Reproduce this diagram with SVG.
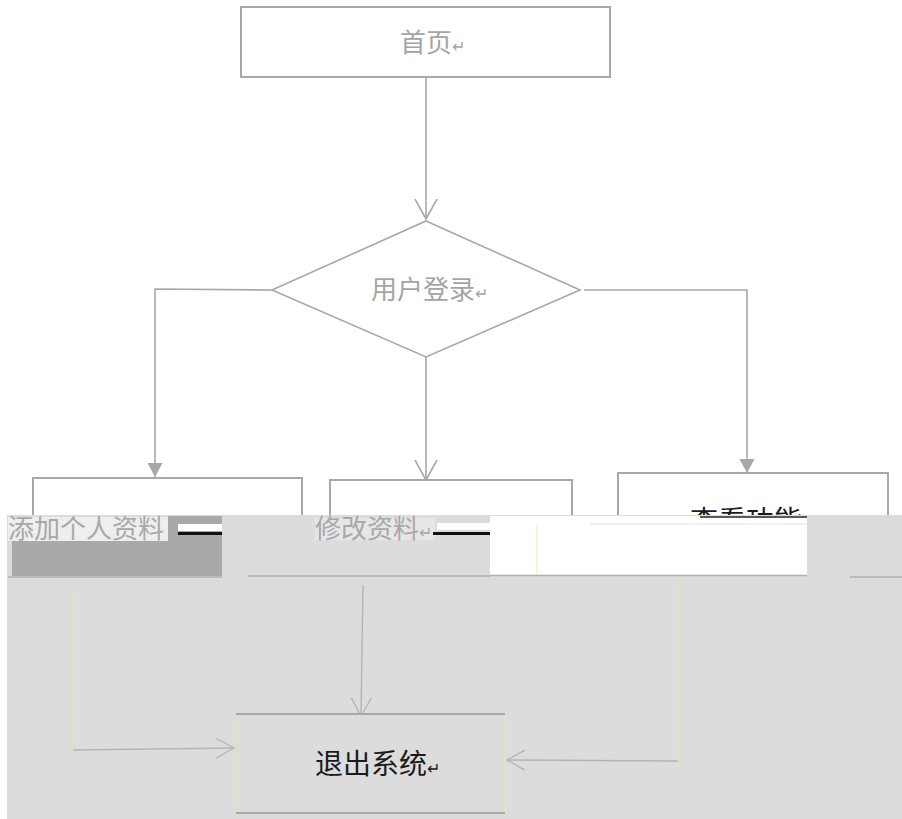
<svg xmlns="http://www.w3.org/2000/svg" width="902" height="819" viewBox="0 0 902 819">
<style>
.box{fill:#fff;stroke:#a8a8a8;stroke-width:2}
.ln{fill:none;stroke:#a8a8a8;stroke-width:1.6}
.lnl{fill:none;stroke:#b4b4b4;stroke-width:1.4}
.lny{fill:none;stroke:#e4e4a8;stroke-width:1.2}
.t{font-family:"Noto Sans CJK SC","Liberation Sans",sans-serif;font-size:26px}
.g{fill:#a4a4a4}
.k{fill:#1a1a1a}
.r{font-size:16px}
</style>
<defs>
<marker id="open" markerUnits="userSpaceOnUse" markerWidth="26" markerHeight="26" refX="20" refY="12" orient="auto">
<path d="M0,1 L20,12 L0,23" fill="none" stroke="#a8a8a8" stroke-width="1.6"/>
</marker>
<marker id="openl" markerUnits="userSpaceOnUse" markerWidth="26" markerHeight="26" refX="20" refY="12" orient="auto">
<path d="M2,2 L20,12 L2,22" fill="none" stroke="#b4b4b4" stroke-width="1.3"/>
</marker>
<marker id="tri" markerUnits="userSpaceOnUse" markerWidth="18" markerHeight="18" refX="14" refY="8" orient="auto">
<path d="M0,0.5 L14,8 L0,15.5 Z" fill="#a8a8a8"/>
</marker>
<clipPath id="topclip"><rect x="600" y="490" width="300" height="27"/></clipPath>
</defs>
<rect width="902" height="819" fill="#fff"/>

<g id="connectors">
<path class="ln" d="M426,78 L426,219" marker-end="url(#open)"/>
<path class="ln" d="M272,290 L155,289 L155,477" marker-end="url(#tri)"/>
<path class="ln" d="M584,290 L747,290 L747,473" marker-end="url(#tri)"/>
<path class="ln" d="M426,357 L426,480" marker-end="url(#open)"/>
</g>

<g id="node-home">
<rect class="box" x="241" y="7" width="369" height="70"/>
<text class="t g" x="400" y="52">首页<tspan class="r">↵</tspan></text>
</g>
<g id="node-login">
<polygon points="426,221 580,290 426,357 272,290" fill="#fff" stroke="#a8a8a8" stroke-width="1.6"/>
<text class="t g" x="371" y="299">用户登录<tspan class="r">↵</tspan></text>
</g>
<g id="node-add">
<rect class="box" x="33" y="478" width="269" height="98"/>
</g>
<g id="node-edit">
<rect class="box" x="330" y="480" width="242" height="96"/>
</g>
<g id="node-view">
<rect class="box" x="618" y="473" width="270" height="103"/>
<text class="t k" x="690" y="531" clip-path="url(#topclip)" style="font-size:28px">查看功能</text>
</g>

<g id="glitch">
<rect x="7" y="515" width="895" height="304" fill="#dcdcdc"/>
<rect x="8" y="517" width="160" height="24" fill="#eeeeee"/>
<rect x="12" y="541" width="210" height="35" fill="#a9a9a9"/>
<rect x="168" y="516" width="54" height="25" fill="#a9a9a9"/>
<rect x="178" y="524" width="44" height="7" fill="#fff"/>
<rect x="178" y="532" width="44" height="3" fill="#111"/>
<line x1="8" y1="577" x2="222" y2="577" stroke="#b0b0b0" stroke-width="1.5"/>
<line x1="248" y1="576" x2="490" y2="576" stroke="#b0b0b0" stroke-width="1.5"/>
<rect x="315" y="518" width="120" height="22" fill="#e6e6e6"/>
<rect x="437" y="523" width="53" height="7" fill="#fff"/>
<rect x="433" y="532" width="57" height="3" fill="#111"/>
<rect x="490" y="516" width="317" height="59" fill="#fff"/>
<line x1="590" y1="524" x2="807" y2="524" stroke="#e0e0e0" stroke-width="1"/>
<line x1="537" y1="524" x2="537" y2="575" stroke="#f0f0a0" stroke-width="1"/>
<line x1="490" y1="575.5" x2="807" y2="575.5" stroke="#b0b0b0" stroke-width="1.5"/>
<line x1="700" y1="517" x2="807" y2="517" stroke="#222" stroke-width="1.5"/>
<line x1="850" y1="577" x2="902" y2="577" stroke="#b0b0b0" stroke-width="1.5"/>
<text class="t" x="8" y="538" fill="#a8a8a8">添加个人资料</text>
<text class="t" x="315" y="538" fill="#a8a8a8">修改资料<tspan class="r">↵</tspan></text>
</g>

<g id="connectors-bottom">
<path class="lny" d="M73,588 L73,750"/>
<path class="lnl" d="M73,750 L234,748" marker-end="url(#openl)"/>
<path class="lnl" d="M363,585 L361,716" marker-end="url(#openl)"/>
<path class="lny" d="M678,578 L678,761"/>
<path class="lnl" d="M678,761 L507,760" marker-end="url(#openl)"/>
</g>

<g id="node-exit">
<rect x="236" y="714" width="269" height="99" fill="#dcdcdc" stroke="none"/>
<line x1="236" y1="714" x2="236" y2="813" stroke="#e6e6a8" stroke-width="1"/>
<line x1="505" y1="714" x2="505" y2="813" stroke="#e6e6a8" stroke-width="1"/>
<line x1="236" y1="714" x2="505" y2="714" stroke="#a8a8a8" stroke-width="2"/>
<line x1="236" y1="813" x2="505" y2="813" stroke="#a8a8a8" stroke-width="2"/>
<text class="t k" x="315" y="774" style="font-size:28px">退出系统<tspan class="r">↵</tspan></text>
</g>
</svg>
